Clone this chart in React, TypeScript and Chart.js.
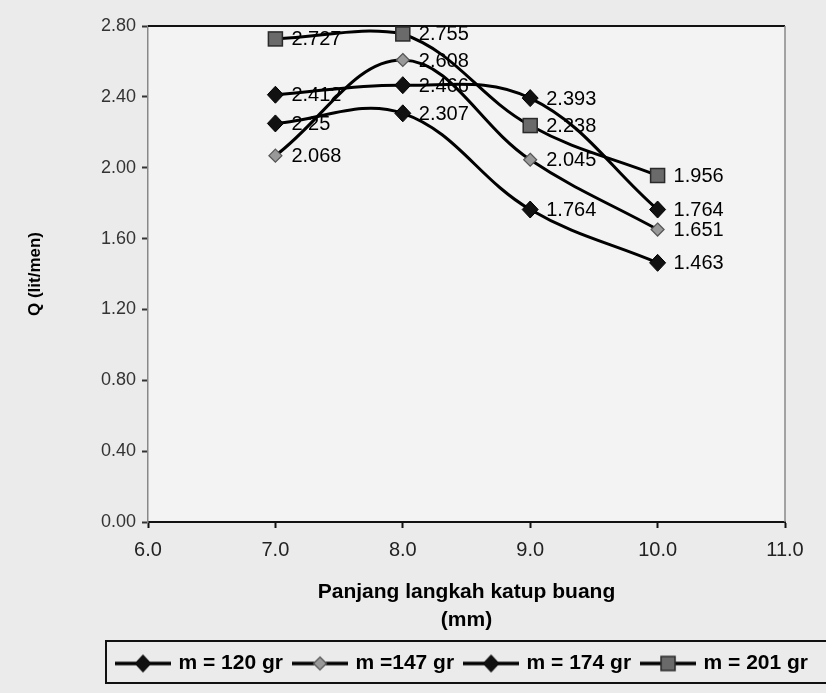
import React, { useEffect, useRef } from "react";
import { Chart, registerables } from "chart.js";

Chart.register(...registerables);

const xValues = [7, 8, 9, 10];
const q120 = [2.25, 2.307, 1.764, 1.463];
const q147 = [2.068, 2.608, 2.045, 1.651];
const q174 = [2.412, 2.466, 2.393, 1.764];
const q201 = [2.727, 2.755, 2.238, 1.956];
const pointLabels120 = ["2.25", "2.307", "1.764", "1.463"];
const pointLabels147 = ["2.068", "2.608", "2.045", "1.651"];
const pointLabels174 = ["2.412", "2.466", "2.393", "1.764"];
const pointLabels201 = ["2.727", "2.755", "2.238", "1.956"];
const seriesNames = ["m = 120 gr", "m =147 gr", "m = 174 gr", "m = 201 gr"];
const xTicks = [6, 7, 8, 9, 10, 11];
const yTicks = [0, 0.4, 0.8, 1.2, 1.6, 2.0, 2.4, 2.8];

const FONT = "Arial, 'Liberation Sans', sans-serif";

type MarkerKind = "diamond" | "smallDiamond" | "square";

function drawMarker(ctx: CanvasRenderingContext2D, kind: MarkerKind, x: number, y: number) {
  ctx.save();
  if (kind === "diamond") {
    ctx.fillStyle = "#111";
    ctx.strokeStyle = "#000";
    ctx.lineWidth = 1;
    ctx.beginPath();
    ctx.moveTo(x, y - 8.5);
    ctx.lineTo(x + 8, y);
    ctx.lineTo(x, y + 8.5);
    ctx.lineTo(x - 8, y);
    ctx.closePath();
    ctx.fill();
    ctx.stroke();
  } else if (kind === "smallDiamond") {
    ctx.fillStyle = "#999";
    ctx.strokeStyle = "#555";
    ctx.lineWidth = 1.2;
    ctx.beginPath();
    ctx.moveTo(x, y - 6.5);
    ctx.lineTo(x + 6.5, y);
    ctx.lineTo(x, y + 6.5);
    ctx.lineTo(x - 6.5, y);
    ctx.closePath();
    ctx.fill();
    ctx.stroke();
  } else {
    ctx.fillStyle = "#6a6a6a";
    ctx.strokeStyle = "#2a2a2a";
    ctx.lineWidth = 1.5;
    ctx.fillRect(x - 7, y - 7, 14, 14);
    ctx.strokeRect(x - 7, y - 7, 14, 14);
  }
  ctx.restore();
}

function legendSymbol(kind: MarkerKind): HTMLCanvasElement {
  const c = document.createElement("canvas");
  c.width = 56;
  c.height = 20;
  const ctx = c.getContext("2d")!;
  ctx.strokeStyle = "#000";
  ctx.lineWidth = 3.5;
  ctx.beginPath();
  ctx.moveTo(0, 10);
  ctx.lineTo(56, 10);
  ctx.stroke();
  drawMarker(ctx, kind, 28, 10);
  return c;
}

const kinds: MarkerKind[] = ["diamond", "smallDiamond", "diamond", "square"];
const allValues = [q120, q147, q174, q201];
const allLabels = [pointLabels120, pointLabels147, pointLabels174, pointLabels201];

export default function App() {
  const ref = useRef<HTMLCanvasElement>(null);

  useEffect(() => {
    document.body.style.margin = "0";
    const canvas = ref.current!;
    const symbols = kinds.map((k) => legendSymbol(k));

    const datasets = allValues.map((vals, i) => ({
      label: seriesNames[i],
      data: xValues.map((x, j) => ({ x, y: vals[j] })),
      borderColor: "#000",
      borderWidth: 3,
      tension: 0.38,
      pointRadius: 0,
      pointHoverRadius: 0,
      fill: false,
      order: 4 - i,
    }));

    const bgPlugin = {
      id: "bg",
      beforeDraw(chart: any) {
        const { ctx, chartArea } = chart;
        ctx.save();
        ctx.fillStyle = "#ebebeb";
        ctx.fillRect(0, 0, chart.width, chart.height);
        ctx.fillStyle = "#f3f3f3";
        ctx.fillRect(chartArea.left, chartArea.top, chartArea.right - chartArea.left, chartArea.bottom - chartArea.top);
        ctx.restore();
      },
    };

    const legendPos = {
      id: "legendPos",
      afterLayout(chart: any) {
        const lg = chart.legend;
        if (!lg) return;
        lg.left = 86;
        lg.right = 840;
        lg.top = 641;
        lg.bottom = 686;
      },
    };

    const decor = {
      id: "decor",
      afterDatasetsDraw(chart: any) {
        const { ctx, chartArea, scales } = chart;
        ctx.save();
        ctx.strokeStyle = "#111";
        ctx.lineWidth = 2;
        ctx.beginPath();
        ctx.moveTo(chartArea.left, chartArea.top);
        ctx.lineTo(chartArea.right, chartArea.top);
        ctx.stroke();
        ctx.strokeStyle = "#888";
        ctx.lineWidth = 1.5;
        ctx.beginPath();
        ctx.moveTo(chartArea.right, chartArea.top);
        ctx.lineTo(chartArea.right, chartArea.bottom);
        ctx.stroke();
        allValues.forEach((vals, i) => {
          vals.forEach((v, j) => {
            const px = scales.x.getPixelForValue(xValues[j]);
            const py = scales.y.getPixelForValue(v);
            drawMarker(ctx, kinds[i], px, py);
          });
        });
        ctx.fillStyle = "#000";
        ctx.font = "20px " + FONT;
        ctx.textAlign = "left";
        ctx.textBaseline = "middle";
        allValues.forEach((vals, i) => {
          vals.forEach((v, j) => {
            const px = scales.x.getPixelForValue(xValues[j]);
            const py = scales.y.getPixelForValue(v);
            ctx.fillText(allLabels[i][j], px + 16, py + 1);
          });
        });
        ctx.restore();
      },
      afterDraw(chart: any) {
        const { ctx } = chart;
        ctx.save();
        ctx.strokeStyle = "#111";
        ctx.lineWidth = 2;
        ctx.strokeRect(106, 641, 730, 42);
        ctx.restore();
      },
    };

    const chart = new Chart(canvas, {
      type: "line",
      data: { datasets },
      options: {
        animation: false,
        responsive: false,
        layout: { padding: { top: 26, right: 0, left: 0, bottom: 0 } },
        plugins: {
          legend: {
            position: "bottom",
            labels: {
              usePointStyle: true,
              pointStyleWidth: 50,
              padding: 12,
              color: "#000",
              font: { family: FONT, size: 21, weight: "bold" },
              generateLabels: () =>
                seriesNames.map((n, i) => ({
                  text: n,
                  pointStyle: symbols[i],
                  datasetIndex: i,
                  fillStyle: "#000",
                  strokeStyle: "#000",
                  lineWidth: 0,
                  hidden: false,
                })),
            },
          },
          tooltip: { enabled: false },
        },
        scales: {
          x: {
            type: "linear",
            min: 6,
            max: 11,
            afterBuildTicks: (s: any) => {
              s.ticks = xTicks.map((v) => ({ value: v }));
            },
            afterFit: (s: any) => {
              s.height = 128;
            },
            grid: { display: true, drawOnChartArea: false, drawTicks: true, tickLength: 6, tickColor: "#111", tickWidth: 2 },
            border: { display: true, color: "#111", width: 2 },
            ticks: {
              padding: 10,
              color: "#222",
              font: { family: FONT, size: 20 },
              callback: (v: any) => Number(v).toFixed(1),
            },
            title: {
              display: true,
              text: ["Panjang langkah katup buang", "(mm)"],
              color: "#000",
              font: { family: FONT, size: 21, weight: "bold", lineHeight: 28 / 21 },
              padding: { top: 0, bottom: 16 },
            },
          },
          y: {
            type: "linear",
            min: 0,
            max: 2.8,
            afterBuildTicks: (s: any) => {
              s.ticks = yTicks.map((v) => ({ value: v }));
            },
            afterFit: (s: any) => {
              s.width = 148;
            },
            grid: { display: true, drawOnChartArea: false, drawTicks: true, tickLength: 6, tickColor: "#333", tickWidth: 2 },
            border: { display: true, color: "#888", width: 1.5 },
            ticks: {
              padding: 6,
              color: "#333",
              font: { family: FONT, size: 18 },
              callback: (v: any) => Number(v).toFixed(2),
            },
            title: {
              display: true,
              text: "Q (lit/men)",
              color: "#000",
              font: { family: FONT, size: 17, weight: "bold" },
              padding: { top: 25, bottom: 0 },
            },
          },
          yRight: {
            type: "linear",
            position: "right",
            display: true,
            min: 0,
            max: 2.8,
            grid: { display: false },
            border: { display: false },
            ticks: { display: false },
            title: { display: false },
            afterFit: (s: any) => {
              s.width = 41;
            },
          },
        },
      },
      plugins: [bgPlugin, legendPos, decor],
    } as any);

    return () => chart.destroy();
  }, []);

  return (
    <div style={{ width: 826, height: 693 }}>
      <canvas ref={ref} width={826} height={693} style={{ display: "block", width: 826, height: 693 }} />
    </div>
  );
}
